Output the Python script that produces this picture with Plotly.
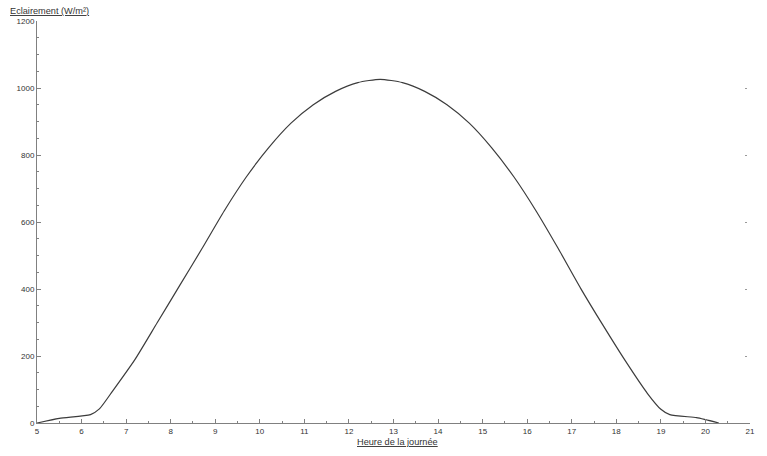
"""
Courbe d'éclairement solaire sur la journée
"""
import plotly.graph_objects as go

# heures de la journée (h) et éclairement (W/m²)
heures = [5.0, 5.5, 6.2, 6.4, 6.7, 7.2, 7.7, 8.2, 8.7, 9.2, 9.7, 10.2,
          10.7, 11.2, 11.7, 12.2, 12.7, 13.2, 13.7, 14.2, 14.7, 15.2,
          15.7, 16.2, 16.7, 17.2, 17.7, 18.2, 18.7, 19.0, 19.2, 19.8,
          20.0, 20.3]
eclairement = [0, 14, 25, 42, 96, 190, 300, 410, 520, 633, 735, 822,
               895, 950, 990, 1016, 1026, 1016, 990, 950, 895, 822,
               735, 633, 520, 402, 292, 186, 88, 41, 25, 16,
               10, 0]

x_ticks = list(range(5, 22))
y_ticks = [0, 200, 400, 600, 800, 1000, 1200]
y_right_ticks = [200, 400, 600, 800, 1000]

FONT = "Liberation Sans, Arial, sans-serif"
AXIS_COLOR = "#808080"
TEXT_COLOR = "#333333"

fig = go.Figure()
fig.add_trace(go.Scatter(
    x=heures, y=eclairement, mode="lines",
    line=dict(color="#3c3c3c", width=1.2, shape="spline", smoothing=0.6),
    showlegend=False, hoverinfo="skip",
))
# empty trace so the right-hand axis (tick marks only) gets drawn
fig.add_trace(go.Scatter(x=[], y=[], yaxis="y2", showlegend=False))

fig.update_layout(
    width=767, height=456,
    margin=dict(l=37, r=17, t=21, b=33),
    paper_bgcolor="white", plot_bgcolor="white",
    font=dict(family=FONT, size=8, color=TEXT_COLOR),
    xaxis=dict(
        range=[5, 21], tickvals=x_ticks, ticktext=[str(t) for t in x_ticks],
        showgrid=False, zeroline=False, automargin=False,
        showline=True, linecolor=AXIS_COLOR, linewidth=1,
        ticks="inside", ticklen=4, tickcolor=AXIS_COLOR,
        minor=dict(dtick=0.5, ticks="inside", ticklen=2, tickcolor=AXIS_COLOR),
        tickfont=dict(size=8, color=TEXT_COLOR),
    ),
    yaxis=dict(
        range=[0, 1200], tickvals=y_ticks, ticktext=[str(t) for t in y_ticks],
        showgrid=False, zeroline=False, automargin=False,
        showline=True, linecolor=AXIS_COLOR, linewidth=1,
        ticks="inside", ticklen=4, tickcolor=AXIS_COLOR,
        minor=dict(dtick=50, ticks="inside", ticklen=2, tickcolor=AXIS_COLOR),
        tickfont=dict(size=8, color=TEXT_COLOR),
    ),
    yaxis2=dict(
        range=[0, 1200], overlaying="y", side="right", anchor="free",
        position=0.996, tickvals=y_right_ticks, showticklabels=False,
        showgrid=False, zeroline=False, showline=False, automargin=False,
        ticks="inside", ticklen=2, tickcolor="#999999",
    ),
)

fig.add_annotation(
    text="<u>Eclairement (W/m²)</u>", xref="paper", yref="paper",
    x=-0.041, y=1.0, xanchor="left", yanchor="bottom", yshift=3,
    showarrow=False, font=dict(family=FONT, size=9.2, color=TEXT_COLOR),
)
fig.add_annotation(
    text="<u>Heure de la journée</u>", xref="paper", yref="paper",
    x=0.506, y=0, xanchor="center", yanchor="top", yshift=-12,
    showarrow=False, font=dict(family=FONT, size=9.2, color=TEXT_COLOR),
)

# drop the default page margin so the figure sits at the window's corner
fig.write_html(
    "out.html",
    config={"displayModeBar": False},
    post_script="document.body.style.margin = '0';",
)
